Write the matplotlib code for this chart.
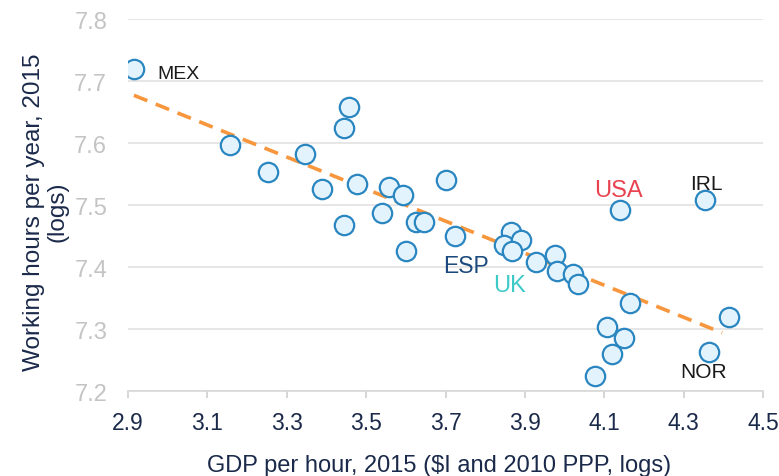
import numpy as np
import matplotlib
matplotlib.use("Agg")
import matplotlib.pyplot as plt

plt.rcParams["font.family"] = ["Liberation Sans", "DejaVu Sans"]

# GDP per hour (logs) and working hours per year (logs), 2015
gdp_per_hour = [2.915, 3.158, 3.254, 3.347, 3.390, 3.445, 3.458, 3.476, 3.445,
                3.557, 3.539, 3.594, 3.600, 3.625, 3.647, 3.700, 3.723,
                3.865, 3.847, 3.890, 3.867, 3.928, 3.976, 3.980, 4.020, 4.034,
                4.140, 4.354, 4.165, 4.107, 4.150, 4.120, 4.077, 4.364, 4.413]
work_hours = [7.719, 7.597, 7.553, 7.582, 7.526, 7.624, 7.658, 7.534, 7.468,
              7.529, 7.487, 7.516, 7.426, 7.473, 7.473, 7.540, 7.450,
              7.456, 7.435, 7.444, 7.426, 7.408, 7.419, 7.394, 7.389, 7.373,
              7.492, 7.508, 7.342, 7.303, 7.285, 7.260, 7.224, 7.263, 7.319]

trend_x = [2.915, 4.397]
trend_y = [7.677, 7.294]

# country labels: text, x, baseline y, colour, size
labels = [
    ("MEX", 2.973, 7.705, "#1a1a1a", 14),
    ("USA", 4.075, 7.5145, "#e8434f", 17),
    ("IRL", 4.317, 7.526, "#1a1a1a", 15),
    ("ESP", 3.695, 7.392, "#1c4a7c", 16.5),
    ("UK", 3.821, 7.361, "#3ec9c9", 17),
    ("NOR", 4.291, 7.223, "#1a1a1a", 15),
]

x_ticks = [2.9, 3.1, 3.3, 3.5, 3.7, 3.9, 4.1, 4.3, 4.5]
y_ticks = [7.2, 7.3, 7.4, 7.5, 7.6, 7.7, 7.8]

navy = "#1b2a4a"

fig = plt.figure(figsize=(7.79, 4.77), dpi=100)
ax = fig.add_axes([0.1643, 0.178, 0.8152, 0.780])

ax.plot(trend_x, trend_y, color="#f7963c", lw=2.6, ls=(0, (4, 2.5)), zorder=2)
ax.scatter(gdp_per_hour, work_hours, s=195, facecolor="#e2f3fd",
           edgecolor="#2a86c0", linewidth=1.6, zorder=3)

for text, x, y, c, fs in labels:
    ax.text(x, y, text, color=c, fontsize=fs, ha="left", va="baseline", zorder=4)

ax.set_xlim(2.9, 4.5)
ax.set_ylim(7.2, 7.8)
ax.set_xticks(x_ticks)
ax.set_xticklabels([f"{v:.1f}" for v in x_ticks])
ax.set_yticks(y_ticks)
ax.set_yticklabels([f"{v:.1f}" for v in y_ticks])

ax.grid(axis="y", color="#e2e2e2", lw=1.2, zorder=0)
ax.set_axisbelow(True)
for s in ["top", "right", "left"]:
    ax.spines[s].set_visible(False)
ax.spines["bottom"].set_color("#d8d8d8")
ax.spines["bottom"].set_linewidth(1.2)

ax.tick_params(axis="x", colors="#d0d0d0", length=5, width=1.2,
               labelcolor=navy, labelsize=16.5, pad=9)
ax.tick_params(axis="y", length=0, labelcolor="#c4c4c4", labelsize=17, pad=15)

ax.set_xlabel(r"GDP per hour, 2015 (\$I and 2010 PPP, logs)", color=navy,
              fontsize=17)
ax.xaxis.set_label_coords(0.49, -0.168)
ax.set_ylabel("Working hours per year, 2015\n(logs)", color=navy,
              fontsize=17.5, linespacing=1.05)
ax.yaxis.set_label_coords(-0.094, 0.484)

fig.savefig("out.png", dpi=100)
